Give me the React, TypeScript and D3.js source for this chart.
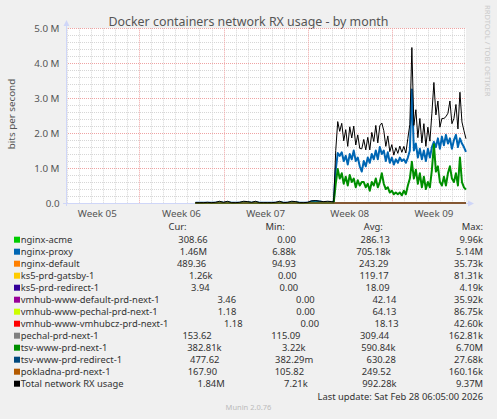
import { useEffect, useRef } from 'react';
import * as d3 from 'd3';

const WIDTH = 497;
const HEIGHT = 419;
const TITLE = 'Docker containers network RX usage - by month';
const Y_TITLE = 'bits per second';

// time window of the month graph (local time)
const domainStart = new Date(2026, 0, 25, 21, 30);
const domainEnd = new Date(2026, 1, 28, 6, 5);

// quiet period, 8 hour samples, values in Mbit/s
const earlyStart = new Date(2026, 1, 5, 16, 0);
const earlyStepHours = 8;
const earlyTotal = [
  0.01, 0.01, 0.01, 0.02, 0.01, 0.02, 0.05, 0.02, 0.05, 0.01, 0.01, 0.02,
  0.05, 0.04, 0.02, 0.05, 0.01, 0.01, 0.01, 0.01, 0.02, 0.05, 0.01, 0.02,
  0.05, 0.04, 0.01, 0.01, 0.02, 0.06, 0.07, 0.05, 0.04, 0.05, 0.04,
];
const earlyProxy = [
  0.005, 0.005, 0.005, 0.01, 0.005, 0.01, 0.02, 0.01, 0.02, 0.005, 0.005, 0.01,
  0.02, 0.02, 0.01, 0.02, 0.005, 0.005, 0.005, 0.005, 0.01, 0.02, 0.005, 0.01,
  0.02, 0.02, 0.005, 0.005, 0.01, 0.05, 0.06, 0.04, 0.02, 0.02, 0.02,
];
const earlyTsv = [
  0.002, 0.002, 0.002, 0.002, 0.002, 0.002, 0.005, 0.002, 0.005, 0.002, 0.002, 0.002,
  0.005, 0.005, 0.002, 0.005, 0.002, 0.002, 0.002, 0.002, 0.002, 0.005, 0.002, 0.002,
  0.005, 0.005, 0.002, 0.002, 0.002, 0.005, 0.005, 0.005, 0.005, 0.005, 0.005,
];

// busy period, 4 hour samples, values in Mbit/s
const mainStart = new Date(2026, 1, 17, 4, 0);
const mainStepHours = 4;
const mainProxy = [
  0.02, 0.95, 1.43, 1.35, 1.45, 1.2, 1.35, 1.1, 1.4, 1.25, 1.5, 1.2,
  1.3, 1.05, 0.9, 1.2, 1.05, 1.3, 1.15, 1.4, 1.25, 1.5, 1.25, 1.6,
  1.4, 1.5, 1.2, 1.45, 1.15, 1.3, 1.1, 1.25, 1.15, 1.3, 1.2, 1.25,
  1.15, 1.3, 1.5, 3.25, 1.5, 1.7, 1.3, 1.55, 1.25, 1.5, 1.2, 1.55,
  1.3, 1.6, 1.75, 1.6, 1.85, 1.55, 1.9, 1.65, 1.95, 1.7, 1.85, 1.55,
  1.8, 1.95, 1.6, 1.85, 1.7, 1.6, 1.46,
];
const mainTsv = [
  0.01, 0.55, 0.97, 0.7, 0.85, 0.55, 0.75, 0.5, 0.8, 0.6, 0.7, 0.45,
  0.65, 0.5, 0.6, 0.6, 0.45, 0.55, 0.35, 0.6, 0.5, 0.7, 0.45, 0.6,
  0.85, 0.55, 0.4, 0.45, 0.3, 0.35, 0.25, 0.3, 0.25, 0.3, 0.22, 0.35,
  0.25, 0.5, 0.7, 1.18, 0.7, 0.95, 0.55, 0.85, 0.45, 0.75, 0.4, 0.6,
  0.45, 0.95, 1.68, 0.9, 1.05, 0.6, 0.5, 0.75, 0.5, 0.85, 1.05, 0.7,
  0.6, 0.85, 0.5, 1.3, 0.6, 0.45, 0.38,
];
const mainTotal = [
  0.03, 1.5, 2.33, 2.05, 2.28, 1.78, 2.1, 1.62, 2.18, 1.86, 2.2, 1.66,
  1.95, 1.56, 1.55, 1.82, 1.52, 1.88, 1.52, 2.02, 1.76, 2.22, 1.72, 2.21,
  2.29, 2.07, 1.62, 1.92, 1.47, 1.67, 1.37, 1.58, 1.42, 1.63, 1.45, 1.62,
  1.43, 1.85, 2.25, 4.45, 2.22, 2.67, 1.87, 2.42, 1.72, 2.27, 1.62, 2.17,
  1.77, 2.57, 3.45, 2.52, 2.92, 2.17, 2.42, 2.42, 2.47, 2.57, 2.92, 2.27,
  2.42, 2.82, 2.12, 3.17, 2.32, 2.07, 1.84,
];

const yTicks = [0, 1, 2, 3, 4, 5];

// legend
const seriesNames = [
  'nginx-acme', 'nginx-proxy', 'nginx-default', 'ks5-prd-gatsby-1', 'ks5-prd-redirect-1',
  'vmhub-www-default-prd-next-1', 'vmhub-www-pechal-prd-next-1', 'vmhub-www-vmhubcz-prd-next-1',
  'pechal-prd-next-1', 'tsv-www-prd-next-1', 'tsv-www-prd-redirect-1', 'pokladna-prd-next-1',
  'Total network RX usage',
];
const seriesColors = [
  '#00CC00', '#0066B3', '#FF8000', '#FFCC00', '#330099', '#990099', '#CCFF00', '#FF0000',
  '#808080', '#008F00', '#00487D', '#B35A00', '#000000',
];
const curValues = ['308.66', '1.46M', '489.36', '1.26k', '3.94', '3.46', '1.18', '1.18', '153.62', '382.81k', '477.62', '167.90', '1.84M'];
const minValues = ['0.00', '6.88k', '94.93', '0.00', '0.00', '0.00', '0.00', '0.00', '115.09', '3.22k', '382.29m', '105.82', '7.21k'];
const avgValues = ['286.13', '705.18k', '243.29', '119.17', '18.09', '42.14', '64.13', '18.13', '309.44', '590.84k', '630.28', '249.52', '992.28k'];
const maxValues = ['9.96k', '5.14M', '35.73k', '81.31k', '4.19k', '35.92k', '86.75k', '42.60k', '162.81k', '6.70M', '27.68k', '160.16k', '9.37M'];
const LAST_UPDATE = 'Last update: Sat Feb 28 06:05:00 2026';
const MUNIN = 'Munin 2.0.76';
const WATERMARK = 'RRDTOOL / TOBI OETIKER';

const FONT = '"Noto Sans", "Open Sans", sans-serif';
const LEGEND_FS = 9.4;

type Pt = [Date, number];

function buildSeries(start: Date, stepH: number, vals: number[]): Pt[] {
  return vals.map((v, i) => [d3.timeHour.offset(start, i * stepH), v]);
}

// rrdtool style "%6.2lf%s"
function rrdFormat(s: string): string {
  const m = s.match(/^([\d.]+)([a-zA-Z]?)$/);
  if (!m) return s;
  return m[1].padStart(6, ' ') + (m[2] || ' ');
}

function toMega(s: string): number {
  const m = s.match(/^([\d.]+)([a-zA-Z]?)$/);
  if (!m) return 0;
  const mult: Record<string, number> = { m: 1e-3, k: 1e3, M: 1e6, '': 1 };
  return (parseFloat(m[1]) * (mult[m[2]] ?? 1)) / 1e6;
}

export default function App() {
  const svgRef = useRef<SVGSVGElement>(null);

  useEffect(() => {
    if (!svgRef.current) return;
    const svg = d3.select(svgRef.current);
    svg.selectAll('*').remove();

    const left = 66;
    const right = 466;
    const top = 28.3;
    const bottom = 203;

    const x = d3.scaleTime().domain([domainStart, domainEnd]).range([left, 467]);
    const y = d3.scaleLinear().domain([0, 5]).range([bottom, top]);

    svg.append('rect').attr('width', WIDTH).attr('height', HEIGHT).attr('fill', '#F0F0F0');
    svg.append('rect')
      .attr('x', left).attr('y', top)
      .attr('width', right - left).attr('height', bottom - top)
      .attr('fill', '#FFFFFF');

    // Title
    svg.append('text')
      .attr('x', 248.5).attr('y', 26)
      .attr('text-anchor', 'middle')
      .style('font-family', FONT).style('font-size', '12.4px')
      .attr('fill', '#555555')
      .text(TITLE);

    // Grid
    const grid = svg.append('g');
    const minorY = d3.range(0, 25).map((k) => k * 0.2).filter((v) => Math.abs(v - Math.round(v)) > 1e-6);
    minorY.forEach((v) => {
      grid.append('line')
        .attr('x1', left).attr('x2', right)
        .attr('y1', Math.round(y(v)) + 0.5).attr('y2', Math.round(y(v)) + 0.5)
        .attr('stroke', '#D6D6D6').attr('stroke-dasharray', '1,1');
    });
    const days = d3.timeDay.range(domainStart, domainEnd);
    days.filter((d) => d.getDay() !== 0).forEach((d) => {
      const px = Math.round(x(d)) + 0.5;
      grid.append('line')
        .attr('x1', px).attr('x2', px).attr('y1', top).attr('y2', bottom)
        .attr('stroke', '#D6D6D6').attr('stroke-dasharray', '1,1');
    });
    yTicks.forEach((v) => {
      grid.append('line')
        .attr('x1', left).attr('x2', right)
        .attr('y1', Math.round(y(v)) + 0.5).attr('y2', Math.round(y(v)) + 0.5)
        .attr('stroke', '#EFA3A3').attr('stroke-dasharray', '1,1');
    });
    const sundays = d3.timeSunday.range(d3.timeSunday.floor(domainStart), domainEnd);
    sundays.filter((d) => d >= domainStart).forEach((d) => {
      const px = Math.round(x(d)) + 0.5;
      grid.append('line')
        .attr('x1', px).attr('x2', px).attr('y1', top).attr('y2', bottom)
        .attr('stroke', '#EFA3A3').attr('stroke-dasharray', '1,1');
    });

    // Y labels
    yTicks.forEach((v) => {
      svg.append('text')
        .attr('x', 59.5).attr('y', y(v) + 3.6)
        .attr('text-anchor', 'end')
        .style('font-family', FONT).style('font-size', '9.8px')
        .attr('fill', '#555555')
        .text(v === 0 ? '0.0' : `${v.toFixed(1)} M`);
    });
    svg.append('text')
      .attr('transform', `translate(15,114) rotate(-90)`)
      .attr('text-anchor', 'middle')
      .style('font-family', FONT).style('font-size', '9.8px')
      .attr('fill', '#555555')
      .text(Y_TITLE);

    // Week labels, centred on the middle of each week
    const weekFmt = d3.timeFormat('%V');
    sundays.forEach((s) => {
      const mid = d3.timeHour.offset(s, 84);
      const px = x(mid);
      if (px < left || px > right) return;
      svg.append('text')
        .attr('x', px).attr('y', 216.5)
        .attr('text-anchor', 'middle')
        .style('font-family', FONT).style('font-size', '9.8px')
        .attr('fill', '#555555')
        .text(`Week ${weekFmt(mid)}`);
    });

    // Axes with arrows
    const axisColor = '#CFD6F8';
    svg.append('line')
      .attr('x1', left - 3).attr('x2', 469).attr('y1', bottom + 0.5).attr('y2', bottom + 0.5)
      .attr('stroke', axisColor);
    svg.append('path').attr('d', `M468,${bottom - 2.5}L474,${bottom + 0.5}L468,${bottom + 3.5}Z`).attr('fill', axisColor);
    svg.append('line')
      .attr('x1', left + 0.5).attr('x2', left + 0.5).attr('y1', bottom + 3).attr('y2', 25)
      .attr('stroke', axisColor);
    svg.append('path').attr('d', `M${left - 2.5},26L${left + 0.5},20L${left + 3.5},26Z`).attr('fill', axisColor);

    // Data lines
    const line = d3.line<Pt>().x((d) => x(d[0])).y((d) => y(d[1]));
    const early = (vals: number[]) => buildSeries(earlyStart, earlyStepHours, vals);
    const main = (vals: number[]) => buildSeries(mainStart, mainStepHours, vals);
    const lastTime = d3.timeHour.offset(mainStart, (mainTotal.length - 1) * mainStepHours);

    const plotted: Record<number, Pt[]> = {
      1: [...early(earlyProxy), ...main(mainProxy)],
      9: [...early(earlyTsv), ...main(mainTsv)],
      12: [...early(earlyTotal), ...main(mainTotal)],
    };
    const dataG = svg.append('g');
    seriesNames.forEach((_, i) => {
      const pts: Pt[] = plotted[i] ?? [
        [earlyStart, toMega(avgValues[i])],
        [lastTime, toMega(avgValues[i])],
      ];
      dataG.append('path')
        .datum(pts)
        .attr('fill', 'none')
        .attr('stroke', seriesColors[i])
        .attr('stroke-width', i === 1 || i === 9 ? 2 : 1)
        .attr('stroke-linejoin', 'round')
        .attr('d', line);
    });

    // Legend (rrdtool \j justified lines)
    const ctx = document.createElement('canvas').getContext('2d')!;
    ctx.font = `${LEGEND_FS}px ${FONT}`;
    const tw = (s: string) => ctx.measureText(s).width;
    const LEFT = 14;
    const RIGHT = 483;
    const BOX = 6.7;
    const maxLen = d3.max(seriesNames, (s) => s.length)!;

    const justify = (widths: number[]) => {
      const gap = (RIGHT - LEFT - d3.sum(widths)) / (widths.length - 1);
      const xs: number[] = [];
      let cx = LEFT;
      widths.forEach((w) => {
        xs.push(cx);
        cx += w + gap;
      });
      return xs;
    };

    const legend = svg.append('g')
      .style('font-family', FONT)
      .style('font-size', `${LEGEND_FS}px`)
      .attr('fill', '#333333');

    const header = [' '.repeat(maxLen + 3), 'Cur:', 'Min:', 'Avg:', 'Max:'];
    const hx = justify(header.map(tw));
    header.forEach((s, k) => {
      if (k === 0) return;
      legend.append('text').attr('x', hx[k]).attr('y', 230).text(s);
    });

    seriesNames.forEach((name, i) => {
      const base = 242.7 + i * 12;
      const cells = [curValues[i], minValues[i], avgValues[i], maxValues[i]].map(rrdFormat);
      const widths = [BOX + tw(name.padEnd(maxLen, ' ')), ...cells.map(tw)];
      const xs = justify(widths);
      legend.append('rect')
        .attr('x', LEFT).attr('y', base - 6)
        .attr('width', 6).attr('height', 6)
        .attr('fill', seriesColors[i]);
      legend.append('text').attr('x', LEFT + BOX).attr('y', base).text(name);
      cells.forEach((c, k) => {
        legend.append('text')
          .attr('x', xs[k + 1]).attr('y', base)
          .attr('xml:space', 'preserve')
          .style('white-space', 'pre')
          .text(c);
      });
    });

    legend.append('text')
      .attr('x', RIGHT).attr('y', 399.5)
      .attr('text-anchor', 'end')
      .text(LAST_UPDATE);

    svg.append('text')
      .attr('x', 248.5).attr('y', 410)
      .attr('text-anchor', 'middle')
      .style('font-family', FONT).style('font-size', '7.5px')
      .attr('fill', '#BBBBBB')
      .text(MUNIN);

    svg.append('text')
      .attr('transform', 'translate(484.5,5) rotate(90)')
      .style('font-family', FONT).style('font-size', '7.6px')
      .attr('fill', '#CCCCCC')
      .text(WATERMARK);
  }, []);

  return (
    <svg
      ref={svgRef}
      width={WIDTH}
      height={HEIGHT}
      style={{ position: 'absolute', left: 0, top: 0, display: 'block' }}
    />
  );
}
